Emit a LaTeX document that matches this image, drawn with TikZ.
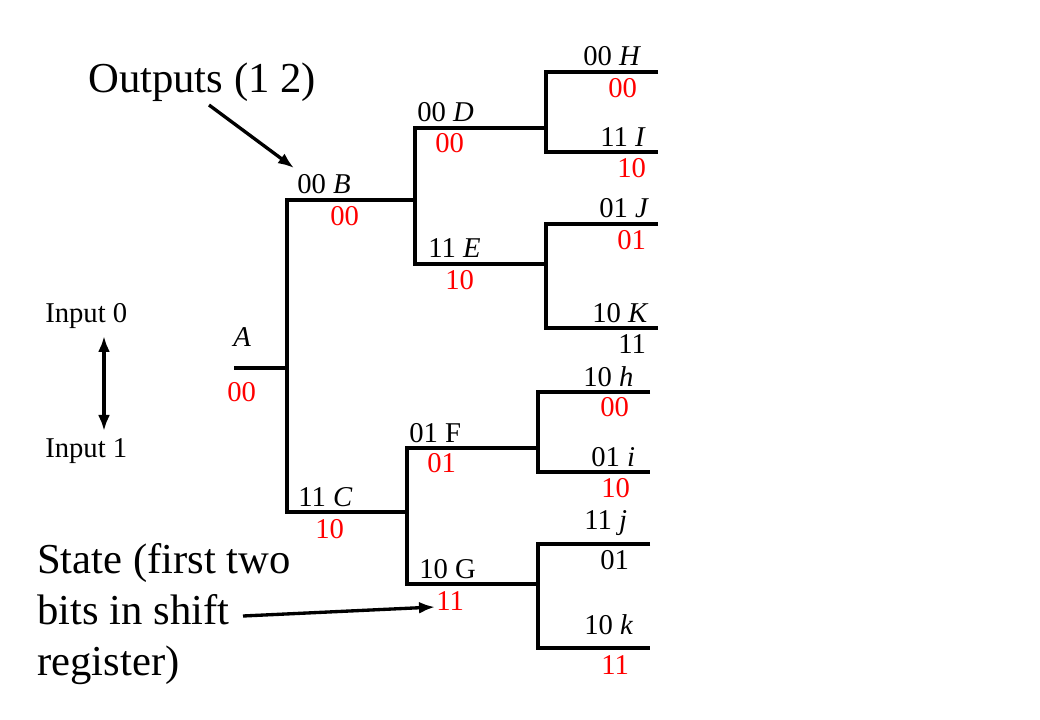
\documentclass[tikz,border=0pt]{standalone}
\usepackage{fontspec}
\setmainfont{Liberation Serif}
\usetikzlibrary{arrows.meta}
\tikzset{myhead/.tip={Latex[length=12pt,width=9pt]}}
\begin{document}
\begin{tikzpicture}[x=0.75pt,y=-0.75pt,
  br/.style={line width=2.6pt},
  lbl/.style={anchor=base west,inner sep=0pt,font=\fontsize{21.5}{25}\selectfont},
  rlbl/.style={lbl,text=red},
  big/.style={anchor=base west,inner sep=0pt,font=\fontsize{32}{38}\selectfont},
  arr/.style={line width=2.5pt,-{myhead}},
  darr/.style={line width=2.6pt,{myhead}-{myhead}}]
\useasboundingbox (0,0) rectangle (1040,720);
% coordinates
\coordinate (a0) at (234,368); \coordinate (a1) at (287,368);
\coordinate (t0) at (287,200); \coordinate (t1) at (287,512);
\coordinate (b1) at (415,200); \coordinate (d0) at (415,128); \coordinate (e0) at (415,264);
\coordinate (d1) at (546,128); \coordinate (e1) at (546,264);
\coordinate (h0) at (546,72); \coordinate (i0) at (546,152);
\coordinate (h1) at (658,72); \coordinate (i1) at (658,152);
\coordinate (j0) at (546,224); \coordinate (k0) at (546,328);
\coordinate (j1) at (658,224); \coordinate (k1) at (658,328);
\coordinate (c1) at (407,512); \coordinate (f0) at (407,448); \coordinate (g0) at (407,584);
\coordinate (f1) at (538,448); \coordinate (g1) at (538,584);
\coordinate (hh0) at (538,392); \coordinate (ii0) at (538,472);
\coordinate (hh1) at (650,392); \coordinate (ii1) at (650,472);
\coordinate (jj0) at (538,544); \coordinate (kk0) at (538,648);
\coordinate (jj1) at (650,544); \coordinate (kk1) at (650,648);
% branches
\draw[br] (a0) -- (a1);
\draw[br] (b1) -- (t0) -- (t1) -- (c1);
\draw[br] (d1) -- (d0) -- (e0) -- (e1);
\draw[br] (h1) -- (h0) -- (i0) -- (i1);
\draw[br] (j1) -- (j0) -- (k0) -- (k1);
\draw[br] (f1) -- (f0) -- (g0) -- (g1);
\draw[br] (hh1) -- (hh0) -- (ii0) -- (ii1);
\draw[br] (jj1) -- (jj0) -- (kk0) -- (kk1);
% labels
\node[lbl] (lA) at (233,347) {\textit{A}};
\node[rlbl] (rA) at (227,402) {00};
\node[lbl] (lB) at (297,194) {00 \textit{B}};
\node[rlbl] (rB) at (330,226) {00};
\node[lbl] (lD) at (417,122) {00 \textit{D}};
\node[rlbl] (rD) at (435,153) {00};
\node[lbl] (lE) at (428,258) {11 \textit{E}};
\node[rlbl] (rE) at (445,290) {10};
\node[lbl] (lH) at (583,66) {00 \textit{H}};
\node[rlbl] (rH) at (608,98) {00};
\node[lbl] (lI) at (600,147) {11 \textit{I}};
\node[rlbl] (rI) at (617,178) {10};
\node[lbl] (lJ) at (599,218) {01 \textit{J}};
\node[rlbl] (rJ) at (617,250) {01};
\node[lbl] (lK) at (592,323) {10 \textit{K}};
\node[lbl] (rK) at (618,354) {11};
\node[lbl] (lC) at (298,507) {11 \textit{C}};
\node[rlbl] (rC) at (315,538) {10};
\node[lbl] (lF) at (409,443) {01 F};
\node[rlbl] (rF) at (427,473) {01};
\node[lbl] (lG) at (419,578) {10 G};
\node[rlbl] (rG) at (436,610) {11};
\node[lbl] (lh) at (583,387) {10 \textit{h}};
\node[rlbl] (rh) at (600,417) {00};
\node[lbl] (li) at (591,467) {01 \textit{i}};
\node[rlbl] (ri) at (601,498) {10};
\node[lbl] (lj) at (584,530) {11 \textit{j}};
\node[lbl] (rj) at (600,570) {01};
\node[lbl] (lk) at (584,634) {10 \textit{k}};
\node[rlbl] (rk) at (601,674) {11};
% inputs
\node[lbl] (in0) at (45,323) {Input 0};
\node[lbl] (in1) at (45,458) {Input 1};
\coordinate (ia) at (104,336); \coordinate (ib) at (104,431);
\draw[darr] (ia) -- (ib);
% outputs annotation
\node[big] (out) at (88,93) {Outputs (1 2)};
\coordinate (oa) at (209,105); \coordinate (ob) at (294,168);
\draw[arr] (oa) -- (ob);
% state annotation
\node[big] (st1) at (37,573) {State (first two};
\node[big] (st2) at (37,624) {bits in shift};
\node[big] (st3) at (37,675) {register)};
\coordinate (sa) at (243,616); \coordinate (sb) at (435,607);
\draw[arr] (sa) -- (sb);
\end{tikzpicture}
\end{document}
